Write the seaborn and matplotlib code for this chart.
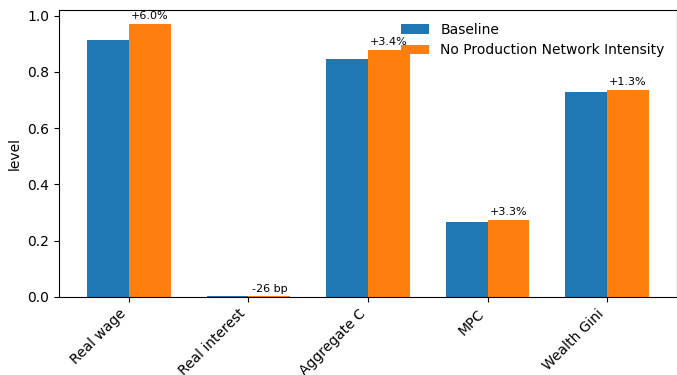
import matplotlib
matplotlib.use("Agg")
import matplotlib.pyplot as plt
import seaborn as sns
import pandas as pd

categories = ["Real wage", "Real interest", "Aggregate C", "MPC", "Wealth Gini"]
baseline = [0.915, 0.0050, 0.847, 0.265, 0.727]
no_network = [0.970, 0.0024, 0.877, 0.274, 0.736]
labels = ["+6.0%", "-26 bp", "+3.4%", "+3.3%", "+1.3%"]
series_names = ["Baseline", "No Production Network Intensity"]

df = pd.DataFrame({
    "category": categories * 2,
    "value": baseline + no_network,
    "scenario": [series_names[0]] * len(categories) + [series_names[1]] * len(categories),
})

fig = plt.figure(figsize=(6.77, 3.75), dpi=100)
ax = fig.add_axes([59 / 677, 1 - 297 / 375, 618 / 677, 287 / 375])
sns.barplot(data=df, x="category", y="value", hue="scenario", ax=ax,
            palette=["#1f77b4", "#ff7f0e"], saturation=1, width=0.7,
            errorbar=None)

ax.set_xlim(-0.585, len(categories) - 1 + 0.585)
ax.set_ylim(0, 1.02)
ax.set_xlabel("")
ax.set_ylabel("level")
ax.set_xticks(range(len(categories)))
ax.set_xticklabels(categories, rotation=45, ha="right")

for i, (v, lab) in enumerate(zip(no_network, labels)):
    ax.annotate(lab, (i + 0.175, v), xytext=(0, 2), textcoords="offset points",
                ha="center", va="bottom", fontsize=8)

ax.legend(loc="upper right", frameon=False, fontsize=10)

fig.savefig("out.png", dpi=100)
